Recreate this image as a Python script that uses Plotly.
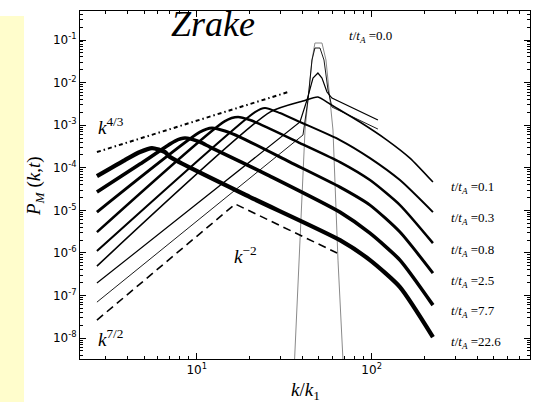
import plotly.graph_objects as go

# ---- data ----
k_gray = [35.8, 38.5, 41.6, 45.6, 47.4, 52.0, 54.8, 57.8, 60.1, 64.2, 69.5]
P_gray = [1e-9, 6.8e-7, 7.7e-4, 3.4e-2, 8.5e-2, 8.5e-2, 3.4e-2, 3.9e-3, 7.7e-4, 6.8e-7, 1e-9]

k_c1 = [2.69, 40.5, 43.25, 45.6, 47.4, 50.65, 53.4, 56.3, 59.3, 108.6]
P_c1 = [7.0e-8, 5.87e-4, 3.90e-3, 3.39e-2, 6.49e-2, 6.49e-2, 3.39e-2, 6.69e-3, 2.67e-3, 8.11e-4]

k_c2 = [2.69, 38.93, 42.7, 46.2, 49.3, 52.0, 55.55, 59.3, 108.6]
P_c2 = [1.96e-7, 1.19e-3, 3.90e-3, 1.28e-2, 1.68e-2, 1.28e-2, 6.0e-3, 4.34e-3, 1.32e-3]

k_t01 = [2.69, 26.23, 40.5, 49.3, 57.8, 65.9, 85.7, 122.3, 165.5, 224]
P_t01 = [4.91e-7, 2.03e-3, 3.69e-3, 4.58e-3, 3.14e-3, 2.27e-3, 1.19e-3, 4.48e-4, 1.69e-4, 4.62e-5]

k_t03 = [2.69, 21.54, 24.56, 29.92, 38.93, 65.9, 97.8, 145.1, 224]
P_t03 = [1.11e-6, 2.03e-3, 2.53e-3, 1.93e-3, 1.19e-3, 4.48e-4, 1.69e-4, 5.14e-5, 9.11e-6]

k_t08 = [2.69, 14.51, 17.22, 20.17, 23.0, 38.93, 65.9, 97.8, 145.1, 224]
P_t08 = [3.09e-6, 1.25e-3, 1.55e-3, 1.32e-3, 1.06e-3, 3.81e-4, 1.36e-4, 5.14e-5, 1.33e-5, 1.70e-6]

k_t25 = [2.69, 10.44, 12.23, 14.51, 17.68, 34.13, 65.9, 97.8, 145.1, 224]
P_t25 = [9.11e-6, 6.90e-4, 8.57e-4, 7.29e-4, 5.26e-4, 1.36e-4, 3.52e-5, 1.33e-5, 3.09e-6, 3.36e-7]

k_t77 = [2.69, 4.74, 7.52, 8.57, 10.44, 11.91, 26.23, 65.9, 97.8, 145.1, 224]
P_t77 = [2.69e-5, 1.22e-4, 4.24e-4, 4.99e-4, 4.02e-4, 3.07e-4, 6.39e-5, 9.11e-6, 2.92e-6, 6.79e-7, 5.95e-8]

k_t226 = [2.69, 3.89, 4.74, 5.55, 6.59, 7.04, 20.17, 65.9, 97.8, 145.1, 224]
P_t226 = [6.39e-5, 1.52e-4, 2.34e-4, 2.90e-4, 2.34e-4, 1.78e-4, 2.05e-5, 2.00e-6, 6.79e-7, 1.58e-7, 1.06e-8]

k_ref43 = [2.69, 33.3]
P_ref43 = [2.34e-4, 6.0e-3]

k_ref_dash = [2.69, 16.6, 63.4]
P_ref_dash = [2.65e-8, 1.41e-5, 1.0e-6]

time_labels = ["0.1", "0.3", "0.8", "2.5", "7.7", "22.6"]
y_tick_vals = [1e-8, 1e-7, 1e-6, 1e-5, 1e-4, 1e-3, 1e-2, 1e-1]
y_tick_text = ["10<sup>-8</sup>", "10<sup>-7</sup>", "10<sup>-6</sup>", "10<sup>-5</sup>",
               "10<sup>-4</sup>", "10<sup>-3</sup>", "10<sup>-2</sup>", "10<sup>-1</sup>"]
x_tick_vals = [10, 100]
x_tick_text = ["10<sup>1</sup>", "10<sup>2</sup>"]

# ---- figure ----
fig = go.Figure()

def add(k, P, width, color="black", dash="solid", shape="linear"):
    fig.add_trace(go.Scatter(x=k, y=P, mode="lines",
                             line=dict(color=color, width=width, dash=dash, shape=shape,
                                       smoothing=0.6 if shape == "spline" else None),
                             hoverinfo="skip", showlegend=False))

add(k_gray, P_gray, 1.0, color="#8a8a8a")
add(k_c1, P_c1, 0.9)
add(k_c2, P_c2, 1.2)
add(k_t01, P_t01, 1.6, shape="spline")
add(k_t03, P_t03, 2.0, shape="spline")
add(k_t08, P_t08, 2.5, shape="spline")
add(k_t25, P_t25, 3.0, shape="spline")
add(k_t77, P_t77, 3.6, shape="spline")
add(k_t226, P_t226, 4.3, shape="spline")
add(k_ref43, P_ref43, 2.0, dash="4px,3px,1.5px,3px")
add(k_ref_dash, P_ref_dash, 1.6, dash="8px,5px")

minor_x = [v * d for d in (1, 10, 100) for v in range(2, 10)]
minor_y = [v * 10.0 ** e for e in range(-9, 0) for v in range(2, 10)]

axis_common = dict(type="log", showgrid=False, zeroline=False, showline=True,
                   linecolor="black", linewidth=1, mirror="allticks",
                   ticks="inside", ticklen=6, tickwidth=1, tickcolor="black",
                   tickfont=dict(family="DejaVu Sans", size=12, color="black"))

fig.update_xaxes(**axis_common, range=[0.333, 2.905], tickmode="array",
                 tickvals=x_tick_vals, ticktext=x_tick_text,
                 minor=dict(tickmode="array", tickvals=minor_x, ticks="inside",
                            ticklen=3, tickcolor="black", showgrid=False))
fig.update_yaxes(**axis_common, range=[-8.49, -0.319], tickmode="array",
                 tickvals=y_tick_vals, ticktext=y_tick_text,
                 minor=dict(tickmode="array", tickvals=minor_y, ticks="inside",
                            ticklen=3, tickcolor="black", showgrid=False))

serif = "Liberation Serif"
ann = []
ann.append(dict(x=0.198, y=0.9626, xref="paper", yref="paper", xanchor="left", yanchor="middle",
                text="<i>Zrake</i>", showarrow=False, font=dict(family=serif, size=36, color="black")))
ann.append(dict(x=0.5933, y=0.9253, xref="paper", yref="paper", xanchor="left", yanchor="middle",
                text="<i>t</i>/<i>t</i><sub><i>A</i></sub> =0.0", showarrow=False,
                font=dict(family=serif, size=13, color="black")))
label_y = [0.4914, 0.4023, 0.3132, 0.2241, 0.1351, 0.046]
for lab, yy in zip(time_labels, label_y):
    ann.append(dict(x=0.82, y=yy, xref="paper", yref="paper", xanchor="left", yanchor="middle",
                    text="<i>t</i>/<i>t</i><sub><i>A</i></sub> =" + lab, showarrow=False,
                    font=dict(family=serif, size=13, color="black")))
ann.append(dict(x=0.036, y=0.6695, xref="paper", yref="paper", xanchor="left", yanchor="middle",
                text="<i>k</i><sup>4/3</sup>", showarrow=False, font=dict(family=serif, size=19, color="black")))
ann.append(dict(x=0.338, y=0.2989, xref="paper", yref="paper", xanchor="left", yanchor="middle",
                text="<i>k</i><sup>−2</sup>", showarrow=False, font=dict(family=serif, size=19, color="black")))
ann.append(dict(x=0.036, y=0.0603, xref="paper", yref="paper", xanchor="left", yanchor="middle",
                text="<i>k</i><sup>7/2</sup>", showarrow=False, font=dict(family=serif, size=19, color="black")))
ann.append(dict(x=-0.1, y=0.497, xref="paper", yref="paper", xanchor="center", yanchor="middle",
                text="<i>P</i><sub><i>M</i></sub> (<i>k</i>,<i>t</i>)", textangle=-90, showarrow=False,
                font=dict(family=serif, size=19, color="black")))
ann.append(dict(x=0.5, y=-0.092, xref="paper", yref="paper", xanchor="center", yanchor="middle",
                text="<i>k</i>/<i>k</i><sub>1</sub>", showarrow=False,
                font=dict(family=serif, size=19, color="black")))

fig.update_layout(
    width=538, height=402,
    margin=dict(l=80, r=8, t=11, b=43),
    paper_bgcolor="white", plot_bgcolor="white",
    annotations=ann,
    shapes=[dict(type="rect", xref="paper", yref="paper", x0=-0.1778, x1=-0.1244,
                 y0=-0.1236, y1=0.9856, fillcolor="#FFFDCC", line=dict(width=0), layer="below")],
)

fig.write_html("out.html")
